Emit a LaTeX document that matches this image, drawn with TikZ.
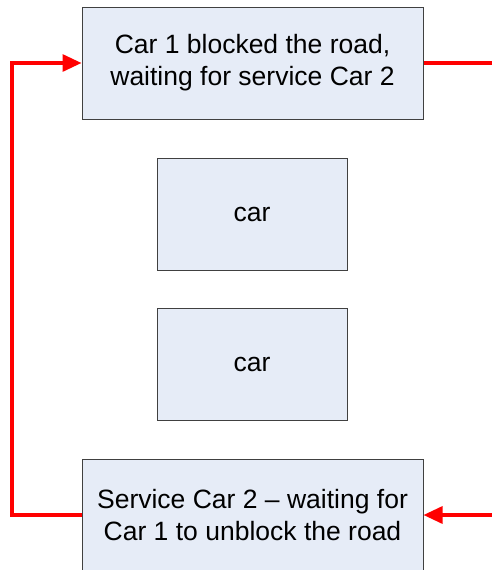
\documentclass[tikz,border=0pt]{standalone}
\usepackage{fontspec}
\setmainfont{Liberation Sans}
\usetikzlibrary{arrows.meta}
\definecolor{boxfill}{HTML}{E6ECF7}
\definecolor{boxline}{HTML}{404040}
\tikzset{
  carbox/.style={draw=boxline, fill=boxfill, line width=1pt, align=center,
    inner sep=0pt, font=\fontsize{26.5}{32}\selectfont},
  wait/.style={draw=red, line width=3.2pt, -{Triangle[length=19pt,width=17pt]}},
}
\begin{document}
\begin{tikzpicture}[x=1pt,y=-1pt]
      \useasboundingbox (0,0) rectangle (492,570);
      \node[carbox, minimum width=341pt, minimum height=112pt] (blocked) at (252.5,63)
        {Car 1 blocked the road,\\waiting for service Car 2};
      \node[carbox, minimum width=190pt, minimum height=112pt] (car1) at (252,214) {car};
      \node[carbox, minimum width=190pt, minimum height=112pt] (car2) at (252,364.5) {car};
      \node[carbox, minimum width=341pt, minimum height=112pt] (service) at (252.5,515)
        {Service Car 2 -- waiting for\\Car 1 to unblock the road};
      \coordinate (outtop) at (500,63);
      \coordinate (inbot) at (500,515);
      \coordinate (corner) at (12,0);
      \begin{scope}
        \draw[wait, -] (blocked.east) -- (outtop);
        \draw[wait] (service.west) -| (corner |- blocked.west) -- (blocked.west);
        \draw[wait] (inbot) -- (service.east);
      \end{scope}
    \end{tikzpicture}
\end{document}
